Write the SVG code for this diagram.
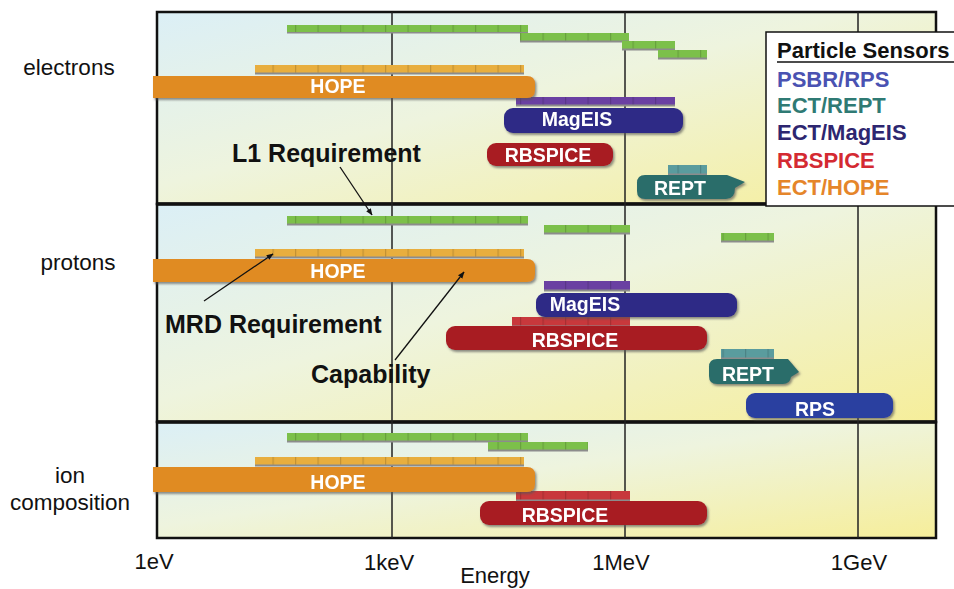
<svg xmlns="http://www.w3.org/2000/svg" width="954" height="589" viewBox="0 0 954 589">
<defs>
<linearGradient id="bg" x1="0" y1="0" x2="1" y2="1">
<stop offset="0" stop-color="#dbeff6"/>
<stop offset="0.45" stop-color="#eef4de"/>
<stop offset="1" stop-color="#f6ee9a"/>
</linearGradient>
<pattern id="ticks" patternUnits="userSpaceOnUse" x="295" y="0" width="22.5" height="10">
<rect x="0" y="0" width="1.2" height="10" fill="#000" fill-opacity="0.16"/>
</pattern>
<filter id="sh" x="-5%" y="-30%" width="110%" height="160%">
<feDropShadow dx="1.5" dy="2" stdDeviation="0.8" flood-color="#555" flood-opacity="0.65"/>
</filter>
<marker id="ah" viewBox="0 0 10 10" refX="9" refY="5" markerWidth="7" markerHeight="7" orient="auto" markerUnits="userSpaceOnUse">
<path d="M0,1 L10,5 L0,9 Z" fill="#111"/>
</marker>
</defs>
<style>
.panel{fill:url(#bg);stroke:#111;stroke-width:2.5}
.grid{stroke:#222;stroke-width:1.5}
.sd{fill:#8c8c8c}
.g{fill:#7cc04a}
.o{fill:#e8ae3e}
.p{fill:#6a40a2}
.r{fill:#c8383c}
.t{fill:#5a9c9e}
.tk{fill:url(#ticks)}
.cap{filter:url(#sh)}
.hope{fill:#e08b24}
.mag{fill:#2e2a86}
.rbs{fill:#a81d24}
.rept{fill:#2c6d6a}
.rps{fill:#2a40a0}
.lbl{font-family:"Liberation Sans",Arial,sans-serif;font-weight:bold;font-size:19.5px;fill:#fff;text-anchor:middle}
.ann{font-family:"Liberation Sans",Arial,sans-serif;font-weight:bold;font-size:25px;fill:#111}
.ax{font-family:"Liberation Sans",Arial,sans-serif;font-size:22px;fill:#111;text-anchor:middle}
.row{font-family:"Liberation Sans",Arial,sans-serif;font-size:22.5px;fill:#111;text-anchor:middle}
.leg{font-family:"Liberation Sans",Arial,sans-serif;font-weight:bold;font-size:22px}
.arr{stroke:#111;stroke-width:1.3;fill:none;marker-end:url(#ah)}
</style>

<g id="background">
<rect class="panel" x="157" y="12" width="779" height="192"/>
<rect class="panel" x="157" y="204" width="779" height="218"/>
<rect class="panel" x="157" y="422" width="779" height="116"/>
<line x1="157" y1="204" x2="936" y2="204" stroke="#111" stroke-width="3.5"/>
<line x1="157" y1="422" x2="936" y2="422" stroke="#111" stroke-width="3.5"/>
</g>

<g id="gridlines">
<line class="grid" x1="392" y1="12" x2="392" y2="538"/>
<line class="grid" x1="625" y1="12" x2="625" y2="538"/>
<line class="grid" x1="858" y1="12" x2="858" y2="538"/>
</g>

<g id="row-labels">
<text class="row" x="69" y="75">electrons</text>
<text class="row" x="78" y="270">protons</text>
<text class="row" x="70" y="483">ion</text>
<text class="row" x="70" y="510">composition</text>
</g>

<g id="axis-labels">
<text class="ax" x="154" y="569">1eV</text>
<text class="ax" x="389" y="570">1keV</text>
<text class="ax" x="621" y="570">1MeV</text>
<text class="ax" x="859" y="570">1GeV</text>
<text class="ax" x="495" y="583">Energy</text>
</g>

<g id="electrons-requirements">
<rect class="sd" x="287" y="31" width="241" height="2.5"/><rect class="g" x="287" y="25" width="241" height="7"/><rect class="tk" x="287" y="25" width="241" height="7"/>
<rect class="sd" x="520" y="40" width="109" height="2.5"/><rect class="g" x="520" y="33" width="109" height="7.5"/><rect class="tk" x="520" y="33" width="109" height="7.5"/>
<rect class="sd" x="622" y="48" width="53" height="2.5"/><rect class="g" x="622" y="41" width="53" height="7.5"/><rect class="tk" x="622" y="41" width="53" height="7.5"/>
<rect class="sd" x="658" y="57" width="49" height="2.5"/><rect class="g" x="658" y="50" width="49" height="7.5"/><rect class="tk" x="658" y="50" width="49" height="7.5"/>
<rect class="sd" x="255" y="72" width="269" height="2.5"/><rect class="o" x="255" y="65" width="269" height="7.5"/><rect class="tk" x="255" y="65" width="269" height="7.5"/>
<rect class="sd" x="516" y="104" width="159" height="2.5"/><rect class="p" x="516" y="97" width="159" height="7.5"/><rect class="tk" x="516" y="97" width="159" height="7.5"/>
<rect class="sd" x="668" y="173" width="39" height="2.5"/><rect class="t" x="668" y="165" width="39" height="8.5"/><rect class="tk" x="668" y="165" width="39" height="8.5"/>
</g>

<g id="electrons-HOPE" class="cap">
<path class="hope" d="M153,76 H527 Q535,76 535,84 V90 Q535,98 527,98 H153 Z"/>
<text class="lbl" x="338" y="93">HOPE</text>
</g>
<g id="electrons-MagEIS" class="cap">
<rect class="mag" x="504" y="108" width="179" height="25" rx="9"/>
<text class="lbl" x="577" y="126">MagEIS</text>
</g>
<g id="electrons-RBSPICE" class="cap">
<rect class="rbs" x="487" y="143" width="126" height="23" rx="9"/>
<text class="lbl" x="548" y="162">RBSPICE</text>
</g>
<g id="electrons-REPT" class="cap">
<path class="rept" d="M645,175 H727 L745,182 L735,188 Q735,199 726,199 H645 Q637,199 637,191 V183 Q637,175 645,175 Z"/>
<text class="lbl" x="680" y="195">REPT</text>
</g>

<g id="protons-requirements">
<rect class="sd" x="287" y="223" width="241" height="2.5"/><rect class="g" x="287" y="216" width="241" height="7.5"/><rect class="tk" x="287" y="216" width="241" height="7.5"/>
<rect class="sd" x="544" y="232" width="86" height="2.5"/><rect class="g" x="544" y="225" width="86" height="7.5"/><rect class="tk" x="544" y="225" width="86" height="7.5"/>
<rect class="sd" x="721" y="240" width="53" height="2.5"/><rect class="g" x="721" y="233" width="53" height="7.5"/><rect class="tk" x="721" y="233" width="53" height="7.5"/>
<rect class="sd" x="255" y="256" width="269" height="2.5"/><rect class="o" x="255" y="249" width="269" height="7.5"/><rect class="tk" x="255" y="249" width="269" height="7.5"/>
<rect class="sd" x="544" y="289" width="86" height="2.5"/><rect class="p" x="544" y="281" width="86" height="8.5"/><rect class="tk" x="544" y="281" width="86" height="8.5"/>
<rect class="sd" x="512" y="325" width="118" height="2.5"/><rect class="r" x="512" y="317" width="118" height="8.5"/><rect class="tk" x="512" y="317" width="118" height="8.5"/>
<rect class="sd" x="721" y="357" width="53" height="2.5"/><rect class="t" x="721" y="349" width="53" height="8.5"/><rect class="tk" x="721" y="349" width="53" height="8.5"/>
</g>

<g id="protons-HOPE" class="cap">
<path class="hope" d="M153,259 H527 Q535,259 535,267 V274 Q535,282 527,282 H153 Z"/>
<text class="lbl" x="338" y="278">HOPE</text>
</g>
<g id="protons-MagEIS" class="cap">
<rect class="mag" x="536" y="293" width="201" height="24" rx="9"/>
<text class="lbl" x="585" y="311">MagEIS</text>
</g>
<g id="protons-RBSPICE" class="cap">
<rect class="rbs" x="446" y="326" width="261" height="24" rx="9"/>
<text class="lbl" x="575" y="347">RBSPICE</text>
</g>
<g id="protons-REPT" class="cap">
<path class="rept" d="M717,359 H788 L799,372 L791,377 Q790,384 783,384 H717 Q709,384 709,376 V367 Q709,359 717,359 Z"/>
<text class="lbl" x="748" y="381">REPT</text>
</g>
<g id="protons-RPS" class="cap">
<rect class="rps" x="746" y="393" width="147" height="25" rx="9"/>
<text class="lbl" x="815" y="416">RPS</text>
</g>

<g id="ions-requirements">
<rect class="sd" x="287" y="440" width="241" height="2.5"/><rect class="g" x="287" y="433" width="241" height="7.5"/><rect class="tk" x="287" y="433" width="241" height="7.5"/>
<rect class="sd" x="488" y="449" width="100" height="2.5"/><rect class="g" x="488" y="442" width="100" height="7.5"/><rect class="tk" x="488" y="442" width="100" height="7.5"/>
<rect class="sd" x="255" y="464" width="269" height="2.5"/><rect class="o" x="255" y="457" width="269" height="7.5"/><rect class="tk" x="255" y="457" width="269" height="7.5"/>
<rect class="sd" x="516" y="499" width="114" height="2.5"/><rect class="r" x="516" y="491" width="114" height="8.5"/><rect class="tk" x="516" y="491" width="114" height="8.5"/>
</g>

<g id="ions-HOPE" class="cap">
<path class="hope" d="M153,467 H527 Q535,467 535,475 V484 Q535,492 527,492 H153 Z"/>
<text class="lbl" x="338" y="489">HOPE</text>
</g>
<g id="ions-RBSPICE" class="cap">
<rect class="rbs" x="480" y="501" width="227" height="24" rx="9"/>
<text class="lbl" x="565" y="522">RBSPICE</text>
</g>

<g id="annotations">
<text class="ann" x="232" y="162">L1 Requirement</text>
<text class="ann" x="165" y="333">MRD Requirement</text>
<text class="ann" x="311" y="383">Capability</text>
</g>

<g id="connectors">
<line class="arr" x1="340" y1="167" x2="372" y2="215"/>
<line class="arr" x1="204" y1="301" x2="273" y2="254"/>
<line class="arr" x1="395" y1="360" x2="464" y2="272"/>
</g>

<g id="legend">
<rect x="766" y="32" width="200" height="174" fill="#fff" stroke="#111" stroke-width="1.5"/>
<text class="leg" x="777" y="58" fill="#111">Particle Sensors</text>
<line x1="777" y1="62" x2="954" y2="62" stroke="#111" stroke-width="1.5"/>
<text class="leg" x="777" y="87" fill="#4a52b2">PSBR/RPS</text>
<text class="leg" x="777" y="113" fill="#2f7a74">ECT/REPT</text>
<text class="leg" x="777" y="140" fill="#2d2670">ECT/MagEIS</text>
<text class="leg" x="777" y="168" fill="#d42a32">RBSPICE</text>
<text class="leg" x="777" y="195" fill="#e5852a">ECT/HOPE</text>
</g>
</svg>
